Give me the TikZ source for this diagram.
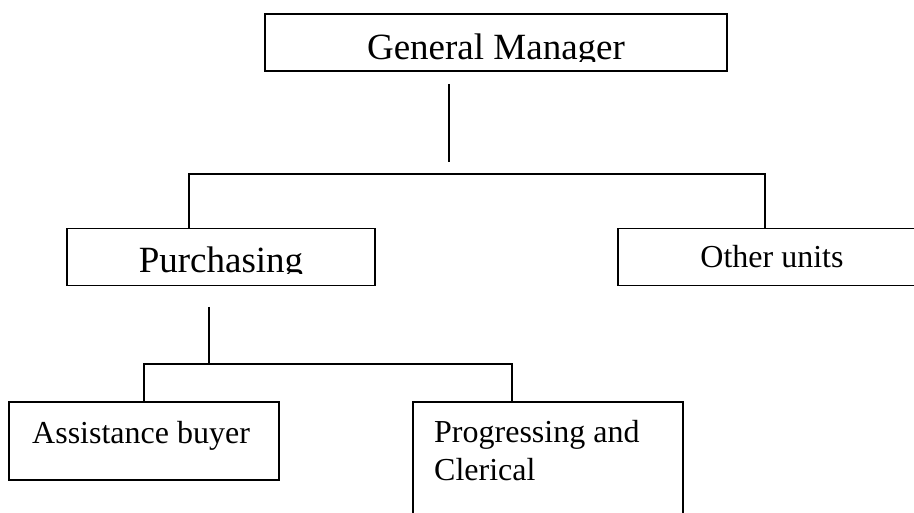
\documentclass[tikz,border=0pt]{standalone}
\usepackage{fontspec}
\setmainfont{Liberation Serif}
\begin{document}
\begin{tikzpicture}[x=1pt,y=-1pt,
  box/.style={draw, rectangle, line width=1.6pt, inner sep=0pt},
  link/.style={line width=1.6pt},
  bigtext/.style={font=\fontsize{37}{42}\selectfont, inner sep=0pt, anchor=base},
  midtext/.style={font=\fontsize{32}{37}\selectfont, inner sep=0pt, anchor=base},
  lefttext/.style={font=\fontsize{32}{37}\selectfont, inner sep=0pt, anchor=base west, align=left}]
\useasboundingbox (0,0) rectangle (914,513);

% boxes
\node[box, minimum width=462pt, minimum height=57pt] (gm)  at (496,42.5) {};
\node[box, minimum width=308pt, minimum height=57pt] (pur) at (221,257) {};
\node[box, minimum width=340pt, minimum height=57pt] (ou)  at (788,257) {};
\node[box, minimum width=270pt, minimum height=78pt] (ab)  at (144,441) {};
\node[box, minimum width=270pt, minimum height=140pt] (pc) at (548,472) {};

% labels (the two large ones are cut just below the baseline)
\begin{scope}
  \clip (265,14) rectangle (727,61.7);
  \node[bigtext] (gmtext) at (496,59.3) {General Manager};
\end{scope}
\begin{scope}
  \clip (67,229) rectangle (375,274);
  \node[bigtext] (purtext) at (221,272.7) {Purchasing};
\end{scope}
\node[midtext] (outext) at (772,268) {Other units};
\node[lefttext] (abtext) at (32,443) {Assistance buyer};
\node[lefttext] (pctext1) at (434,442.5) {Progressing and};
\node[lefttext] (pctext2) at (434,480) {Clerical};

% first level connectors
\coordinate (gmstemtop) at (449,84);
\coordinate (gmstembot) at (449,162);
\coordinate (busaL) at (189,174);
\coordinate (busaR) at (765,174);
\draw[link] (gmstemtop) -- (gmstembot);
\draw[link] (pur.north -| busaL) -- (busaL) -- (busaR) -- (ou.north -| busaR);

% second level connectors
\coordinate (purstemtop) at (209,307);
\coordinate (purstembot) at (209,364);
\coordinate (busbL) at (144,364);
\coordinate (busbR) at (512,364);
\draw[link] (purstemtop) -- (purstembot);
\draw[link] (ab.north -| busbL) -- (busbL) -- (busbR) -- (pc.north -| busbR);
\end{tikzpicture}
\end{document}
